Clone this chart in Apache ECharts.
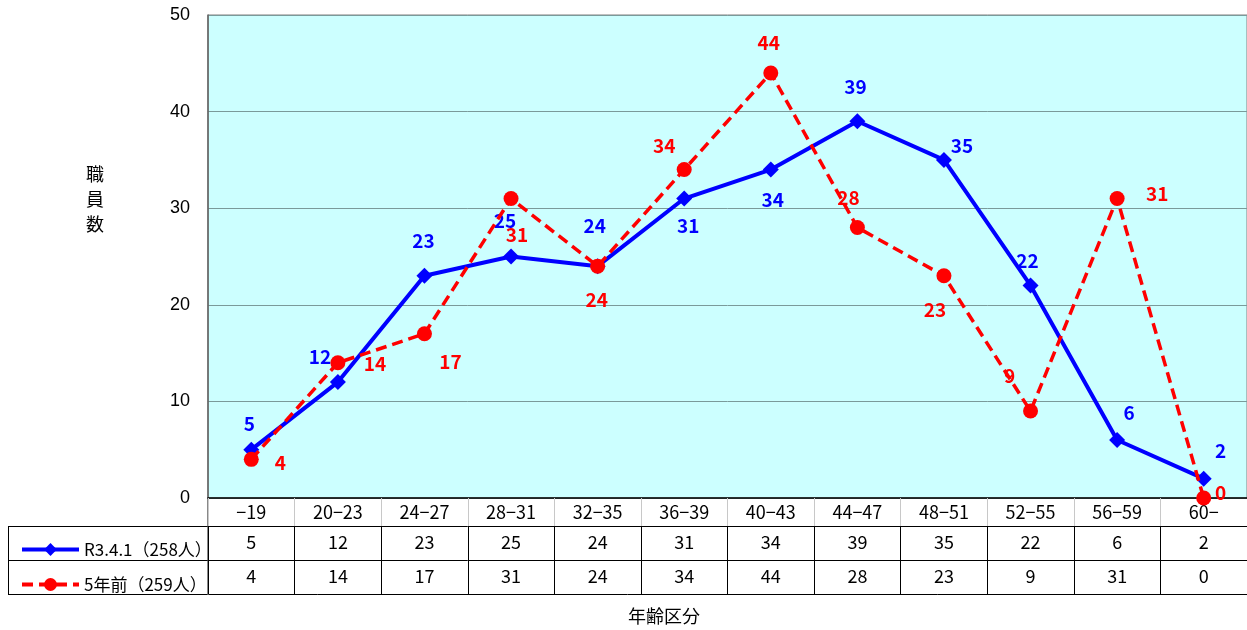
<!DOCTYPE html>
<html><head><meta charset="utf-8">
<script src="https://cdn.jsdelivr.net/npm/echarts@6/dist/echarts.min.js"></script>
<style>html,body{margin:0;padding:0;background:#fff}#c{width:1247px;height:630px}</style>
</head><body><div id="c"></div>
<script>
const categories = ['-19','20-23','24-27','28-31','32-35','36-39','40-43','44-47','48-51','52-55','56-59','60-'];
const seriesNames = ['R3.4.1（258人）','5年前（259人）'];
const currentValues = [5,12,23,25,24,31,34,39,35,22,6,2];
const pastValues = [4,14,17,31,24,34,44,28,23,9,31,0];
const yTicks = {min:0,max:50,interval:10};
const yTitle = '職\n員\n数';
const xTitle = '年齢区分';

// label offsets (style only)
const curOff = [[-2,-26],[-18,-25],[-1,-35],[-6,-36],[-3,-40],[4,27],[2,30],[-2,-34],[18,-14],[-3,-25],[12,-27],[17,-28]];
const pastOff = [[29,3],[37,1],[26,28],[6,36],[-1,34],[-20,-24],[-2,-30],[-9,-30],[-9,34],[-21,-35],[40,-5],[17,-5]];

const FONT = '"Liberation Sans","Noto Sans CJK JP",sans-serif';
const CJK = '"Noto Sans CJK JP",sans-serif';
const mk = (vals, offs) => vals.map((v,i)=>({value:v,label:{offset:offs[i]}}));
const dispCats = categories.map(c=>c.replace('-','−'));

const chart = echarts.init(document.getElementById('c'));
const baseX = {type:'category', data:dispCats, boundaryGap:true, gridIndex:0, position:'bottom'};
chart.setOption({
  animation:false,
  textStyle:{fontFamily:FONT},
  grid:{left:208,top:15,right:0,bottom:132,show:true,backgroundColor:'#CCFFFF',borderColor:'#808080',borderWidth:1},
  xAxis:[
    Object.assign({}, baseX, {
      axisLine:{lineStyle:{color:'#000',width:1.5}},
      axisTick:{show:true,length:28,interval:0,lineStyle:{color:'#c8c8c8'}},
      axisLabel:{color:'#000',fontSize:18,margin:5,interval:0,fontFamily:CJK}
    }),
    Object.assign({}, baseX, {
      data:currentValues.map(String), offset:28,
      axisLine:{lineStyle:{color:'#000',width:1}},
      axisTick:{show:true,length:34,interval:0,lineStyle:{color:'#000'}},
      axisLabel:{color:'#000',fontSize:18,margin:7,interval:0,fontFamily:CJK}
    }),
    Object.assign({}, baseX, {
      data:pastValues.map(String), offset:62,
      axisLine:{lineStyle:{color:'#000',width:1}},
      axisTick:{show:true,length:34,interval:0,lineStyle:{color:'#000'}},
      axisLabel:{color:'#000',fontSize:18,margin:7,interval:0,fontFamily:CJK}
    })
  ],
  yAxis:{type:'value',min:yTicks.min,max:yTicks.max,interval:yTicks.interval,
    axisLine:{show:true,lineStyle:{color:'#606060',width:1.5}},
    axisTick:{show:false},
    axisLabel:{color:'#000',fontSize:18,margin:18,fontFamily:FONT},
    splitLine:{lineStyle:{color:'#7a9a9a',width:1}}
  },
  legend:{orient:'vertical',left:15,top:536,itemWidth:57,itemHeight:16,itemGap:18,
    textStyle:{fontSize:17,color:'#000',fontFamily:CJK},
    data:[{name:seriesNames[0],lineStyle:{width:4}},{name:seriesNames[1],lineStyle:{width:4}}]},
  series:[
    {name:seriesNames[0],type:'line',xAxisIndex:0,data:mk(currentValues,curOff),
     symbol:'diamond',symbolSize:16,
     lineStyle:{color:'#0000FF',width:4},itemStyle:{color:'#0000FF'},
     label:{show:true,position:'inside',color:'#0000FF',fontSize:19,fontWeight:'bold',fontFamily:CJK},z:3},
    {name:seriesNames[1],type:'line',xAxisIndex:0,data:mk(pastValues,pastOff),
     symbol:'circle',symbolSize:15,
     lineStyle:{color:'#FF0000',width:3.5,type:[11,6]},itemStyle:{color:'#FF0000'},
     label:{show:true,position:'inside',color:'#FF0000',fontSize:19,fontWeight:'bold',fontFamily:CJK},z:4}
  ],
  graphic:[
    {type:'line',shape:{x1:8,y1:526.5,x2:208,y2:526.5},style:{stroke:'#000',lineWidth:1}},
    {type:'line',shape:{x1:8,y1:560.5,x2:208,y2:560.5},style:{stroke:'#000',lineWidth:1}},
    {type:'line',shape:{x1:8,y1:594.5,x2:1247,y2:594.5},style:{stroke:'#000',lineWidth:1}},
    {type:'line',shape:{x1:8.5,y1:526,x2:8.5,y2:595},style:{stroke:'#000',lineWidth:1}},
    {type:'line',shape:{x1:208,y1:498,x2:208,y2:595},style:{stroke:'#606060',lineWidth:1.5}},
    {type:'text',left:86,top:162,style:{text:yTitle,lineHeight:25,fill:'#000',font:'18px "Noto Sans CJK JP"'}},
    {type:'text',left:628,top:607,style:{text:xTitle,fill:'#000',font:'18px "Noto Sans CJK JP"'}}
  ]
});
</script></body></html>
